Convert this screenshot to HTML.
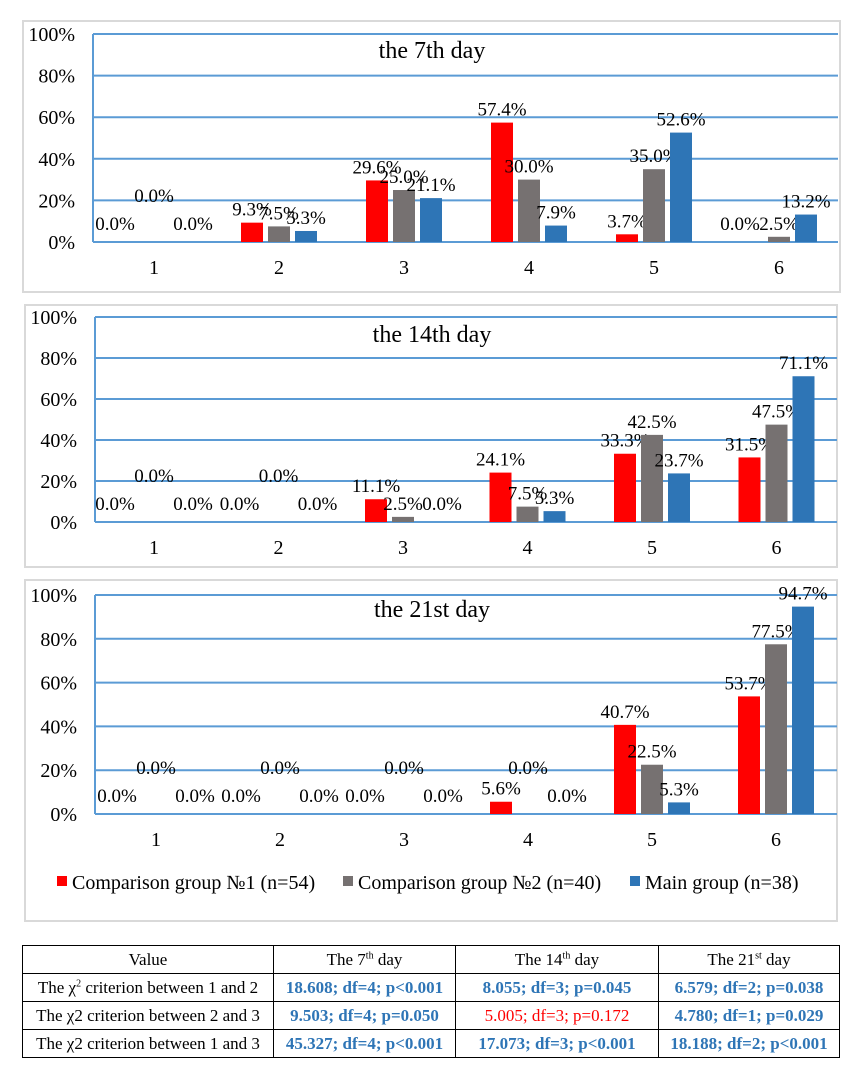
<!DOCTYPE html>
<html><head><meta charset="utf-8"><style>
body{margin:0;background:#fff;width:858px;height:1080px;position:relative;overflow:hidden;font-family:"Liberation Serif",serif}
svg{position:absolute;left:0;top:0}
table{position:absolute;left:22px;top:945px;width:818px;border-collapse:collapse;font-size:17px;font-family:"Liberation Serif",serif}
td{border:1px solid #000;text-align:center;height:27px;padding:0;white-space:nowrap}
td.v{color:#2e75b6;font-weight:bold}
td.r{color:#ff0000}
sup{font-size:10px}
</style></head><body>
<svg id="chart" width="858" height="1080" xmlns="http://www.w3.org/2000/svg"></svg>
<table>
<tr><td style="width:250px">Value</td><td style="width:181px">The 7<sup>th</sup> day</td><td style="width:202px">The 14<sup>th</sup> day</td><td>The 21<sup>st</sup> day</td></tr>
<tr><td>The χ<sup>2</sup> criterion between 1 and 2</td><td class="v">18.608; df=4; p&lt;0.001</td><td class="v">8.055; df=3; p=0.045</td><td class="v">6.579; df=2; p=0.038</td></tr>
<tr><td>The χ2 criterion between 2 and 3</td><td class="v">9.503; df=4; p=0.050</td><td class="r">5.005; df=3; p=0.172</td><td class="v">4.780; df=1; p=0.029</td></tr>
<tr><td>The χ2 criterion between 1 and 3</td><td class="v">45.327; df=4; p&lt;0.001</td><td class="v">17.073; df=3; p&lt;0.001</td><td class="v">18.188; df=2; p&lt;0.001</td></tr>
</table>
<script>
const categories = ["1","2","3","4","5","6"];
const yTicks = ["0%","20%","40%","60%","80%","100%"];
const seriesNames = ["Comparison group №1 (n=54)","Comparison group №2 (n=40)","Main group (n=38)"];
const day7Group1 = [0.0, 9.3, 29.6, 57.4, 3.7, 0.0];
const day7Group2 = [0.0, 7.5, 25.0, 30.0, 35.0, 2.5];
const day7Main = [0.0, 5.3, 21.1, 7.9, 52.6, 13.2];
const day14Group1 = [0.0, 0.0, 11.1, 24.1, 33.3, 31.5];
const day14Group2 = [0.0, 0.0, 2.5, 7.5, 42.5, 47.5];
const day14Main = [0.0, 0.0, 0.0, 5.3, 23.7, 71.1];
const day21Group1 = [0.0, 0.0, 0.0, 5.6, 40.7, 53.7];
const day21Group2 = [0.0, 0.0, 0.0, 0.0, 22.5, 77.5];
const day21Main = [0.0, 0.0, 0.0, 0.0, 5.3, 94.7];
const titles = ["the 7th day","the 14th day","the 21st day"];

const colors = ["#ff0000","#767171","#2e75b6"];
const NS = "http://www.w3.org/2000/svg";
const svg = document.getElementById('chart');
function mk(tag, attrs, parent){const e=document.createElementNS(NS,tag);for(const k in attrs)e.setAttribute(k,attrs[k]);(parent||svg).appendChild(e);return e;}

const panels = [
 {box:[23,21,817,271], top:34, zero:242, left:93, right:838, c1:154, step:125, series:[day7Group1,day7Group2,day7Main], ty:58},
 {box:[25,305,812,262], top:317, zero:522, left:95, right:837, c1:154, step:124.5, series:[day14Group1,day14Group2,day14Main], ty:342},
 {box:[25,580,812,341], top:595, zero:814, left:95, right:837, c1:156, step:124, series:[day21Group1,day21Group2,day21Main], ty:617}
];

panels.forEach((p,pi)=>{
  const g = mk('g',{});
  
  
  const b = mk('rect',{x:p.box[0],y:p.box[1],width:p.box[2],height:p.box[3],fill:'#fff',stroke:'#d9d9d9','stroke-width':2},g);
  
  
  const y = v => p.zero - (v/100)*(p.zero-p.top);
  const x = i => p.c1 + i*p.step;
  yTicks.forEach((t,i)=>{
    const v = i*20;
    const ln = mk('line',{x1:p.left,x2:p.right,y1:y(v),y2:y(v),stroke:'#5b9bd5','stroke-width':2},g);
    
    
    const tx = mk('text',{x:p.left-18,y:y(v)+7,'text-anchor':'end','font-size':20,fill:'#000'},g);
    tx.textContent = t;
    
    
  });
  const ax = mk('line',{x1:p.left,x2:p.left,y1:p.top,y2:p.zero,stroke:'#5b9bd5','stroke-width':2},g);
  
  
  const tt = mk('text',{x:432,y:p.ty,'text-anchor':'middle','font-size':24,fill:'#000'},g);
  tt.textContent = titles[pi];
  
  
  categories.forEach((c,i)=>{
    const ct = mk('text',{x:x(i),y:p.zero+32,'text-anchor':'middle','font-size':20,fill:'#000'},g);
    ct.textContent = c;
    
    
  });
  p.series.forEach((arr,si)=>{
    arr.forEach((v,i)=>{
      const cx = x(i) + (si-1)*27;
      const r = mk('rect',{x:cx-11,y:y(v),width:22,height:Math.max(0,p.zero-y(v)),fill:colors[si]},g);
      
      
      const lx = v===0 ? cx + (si-1)*12 : cx;
      const ly = v===0 ? (si===1 ? p.zero-40 : p.zero-12) : y(v)-7;
      const lb = mk('text',{x:lx,y:ly,'text-anchor':'middle','font-size':19,fill:'#000'},g);
      lb.textContent = v.toFixed(1)+'%';
      
      
    });
  });
});

const legX = [57,343,630];
seriesNames.forEach((n,i)=>{
  const lg = mk('g',{});
  
  
  mk('rect',{x:legX[i],y:876,width:10,height:10,fill:colors[i]},lg);
  const t = mk('text',{x:legX[i]+15,y:889,'font-size':20,fill:'#000'},lg);
  t.textContent = n;
});
</script>
</body></html>
